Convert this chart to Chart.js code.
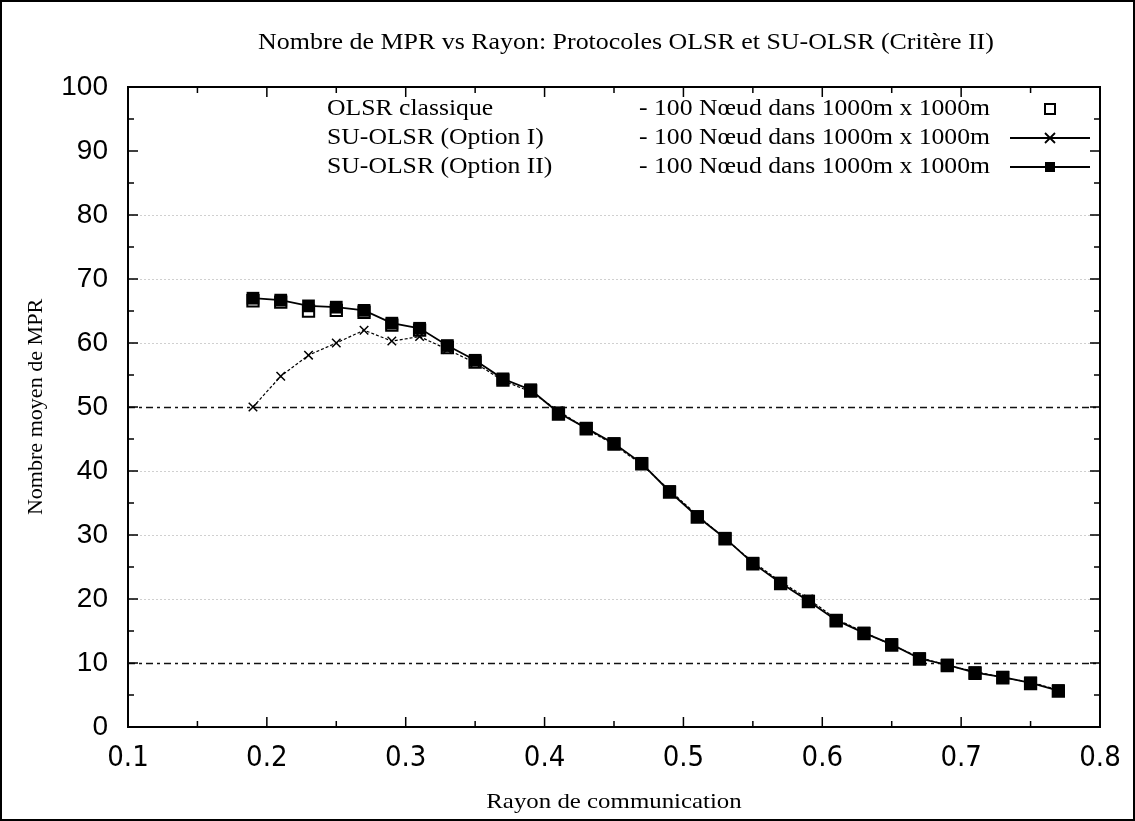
<!DOCTYPE html>
<html>
<head>
<meta charset="utf-8">
<script src="https://cdn.jsdelivr.net/npm/chart.js@4/dist/chart.umd.min.js"></script>
<style>
    html, body { margin: 0; padding: 0; background: #fff; }
    canvas { display: block; }
</style>
</head>
<body>
<canvas id="mpr-chart" width="1135" height="821"></canvas>
<script>
// Rayon de communication (x) and mean MPR count per protocol
const rayon = [0.19, 0.21, 0.23, 0.25, 0.27, 0.29, 0.31, 0.33, 0.35, 0.37,
               0.39, 0.41, 0.43, 0.45, 0.47, 0.49, 0.51, 0.53, 0.55, 0.57,
               0.59, 0.61, 0.63, 0.65, 0.67, 0.69, 0.71, 0.73, 0.75, 0.77];
const olsrClassique = [66.6, 66.4, 65.0, 65.1, 64.8, 62.8, 62.0, 59.3, 57.0, 54.2,
                       52.5, 48.9, 46.6, 44.2, 41.1, 36.7, 32.8, 29.4, 25.5, 22.4,
                       19.6, 16.6, 14.6, 12.8, 10.6, 9.6, 8.4, 7.7, 6.8, 5.6];
const suOlsrOpt1 = [50.0, 54.8, 58.1, 60.0, 62.0, 60.3, 61.0, 59.0, 56.9, 54.1,
                    52.4, 49.4, 46.6, 44.1, 41.0, 37.0, 33.1, 29.4, 25.8, 22.7,
                    20.0, 16.9, 14.8, 12.8, 10.9, 9.6, 8.7, 7.7, 7.0, 5.8];
const suOlsrOpt2 = [67.0, 66.7, 65.8, 65.6, 65.1, 63.1, 62.3, 59.6, 57.3, 54.4,
                    52.7, 49.1, 46.7, 44.3, 41.2, 36.8, 32.9, 29.5, 25.6, 22.5,
                    19.7, 16.7, 14.7, 12.9, 10.7, 9.7, 8.5, 7.8, 6.9, 5.7];

const xTicks = [0.1, 0.2, 0.3, 0.4, 0.5, 0.6, 0.7, 0.8];
const yTicks = [0, 10, 20, 30, 40, 50, 60, 70, 80, 90, 100];

const seriesNames = ['OLSR classique', 'SU-OLSR (Option I)', 'SU-OLSR (Option II)'];
const seriesNote = '- 100 N\u0153ud dans 1000m x 1000m';
const chartTitle = 'Nombre de MPR vs Rayon: Protocoles OLSR et SU-OLSR (Crit\u00e8re II)';
const xTitle = 'Rayon de communication';
const yTitle = 'Nombre moyen de MPR';

const toPoints = (vals) => rayon.map((x, i) => ({ x, y: vals[i] }));

const SERIF = '"Liberation Serif", "DejaVu Serif", serif';
const SANS = '"Liberation Sans", Arial, sans-serif';
const NARROW = '"Liberation Sans Narrow", "DejaVu Sans Condensed", "Liberation Sans", sans-serif';

// the original bitmap text is a bit wider than the fonts we have, so stretch it
const drawWide = (ctx, text, x, y, size, stretch, align) => {
    ctx.save();
    ctx.font = size + 'px ' + SERIF;
    ctx.textBaseline = 'middle';
    ctx.textAlign = align || 'center';
    ctx.translate(x, y);
    ctx.scale(stretch, 1);
    ctx.fillText(text, 0, 0);
    ctx.restore();
};

// horizontal grid: dark dash-dot at 10 and 50, faint dotted elsewhere
const gridPlugin = {
    id: 'gnuGrid',
    beforeDatasetsDraw(chart) {
        const { ctx, chartArea: a, scales: { y } } = chart;
        ctx.save();
        y.ticks.forEach(t => {
            const v = t.value;
            if (v <= 0 || v >= 90) return;
            const py = Math.round(y.getPixelForValue(v)) + 0.5;
            if (v === 10 || v === 50) {
                ctx.strokeStyle = '#111';
                ctx.lineWidth = 1.5;
                ctx.setLineDash([7, 4, 3, 4]);
            } else {
                ctx.strokeStyle = '#d0d0d0';
                ctx.lineWidth = 1;
                ctx.setLineDash([2, 2]);
            }
            ctx.beginPath();
            ctx.moveTo(a.left, py);
            ctx.lineTo(a.right, py);
            ctx.stroke();
        });
        ctx.restore();
    }
};

// frame, inward ticks, titles, legend and page border
const framePlugin = {
    id: 'gnuFrame',
    afterDraw(chart) {
        const { ctx, chartArea: a, scales: { x, y } } = chart;
        ctx.save();
        ctx.strokeStyle = '#000';
        ctx.fillStyle = '#000';
        ctx.lineWidth = 2;
        ctx.setLineDash([]);
        ctx.strokeRect(a.left, a.top, a.right - a.left, a.bottom - a.top);

        ctx.lineWidth = 1.5;
        ctx.beginPath();
        for (let v = 0; v <= 100; v += 5) {
            const py = y.getPixelForValue(v);
            const len = v % 10 === 0 ? 10 : 6;
            ctx.moveTo(a.left, py); ctx.lineTo(a.left + len, py);
            ctx.moveTo(a.right, py); ctx.lineTo(a.right - len, py);
        }
        for (let k = 2; k <= 16; k++) {
            const px = x.getPixelForValue(k * 0.05);
            const len = k % 2 === 0 ? 10 : 6;
            ctx.moveTo(px, a.bottom); ctx.lineTo(px, a.bottom - len);
            ctx.moveTo(px, a.top); ctx.lineTo(px, a.top + len);
        }
        ctx.stroke();

        // titles
        drawWide(ctx, chartTitle, 626, 43, 24, 1.08);
        drawWide(ctx, xTitle, (a.left + a.right) / 2, 802, 22, 1.13);
        ctx.save();
        ctx.translate(36, (a.top + a.bottom) / 2);
        ctx.rotate(-Math.PI / 2);
        drawWide(ctx, yTitle, 0, 0, 21, 1.05);
        ctx.restore();

        // legend, top right inside the plot
        const rows = [109, 138, 167];
        chart.data.datasets.forEach((ds, i) => {
            const ry = rows[i];
            drawWide(ctx, seriesNames[i], 327, ry, 24, 1.07, 'left');
            ctx.save();
            ctx.translate(990, ry);
            ctx.scale(1.07, 1);
            ctx.font = '24px ' + SERIF;
            ctx.textBaseline = 'middle';
            ctx.textAlign = 'right';
            ctx.fillText(seriesNote, 0, 0);
            ctx.restore();

            const mx = 1050;
            if (ds.showLine) {
                ctx.lineWidth = 1.8;
                ctx.beginPath();
                ctx.moveTo(1010, ry); ctx.lineTo(1090, ry);
                ctx.stroke();
            }
            if (ds.pointStyle === 'rect') {
                const s = 5;
                if (ds.pointBackgroundColor === '#000') {
                    ctx.fillRect(mx - s, ry - s, 2 * s, 2 * s);
                } else {
                    ctx.lineWidth = 2;
                    ctx.strokeRect(mx - s, ry - s, 2 * s, 2 * s);
                }
            } else {
                ctx.lineWidth = 1.8;
                ctx.beginPath();
                ctx.moveTo(mx - 5, ry - 5); ctx.lineTo(mx + 5, ry + 5);
                ctx.moveTo(mx - 5, ry + 5); ctx.lineTo(mx + 5, ry - 5);
                ctx.stroke();
            }
        });

        ctx.lineWidth = 2;
        ctx.strokeRect(1, 1, chart.width - 2, chart.height - 2);
        ctx.restore();
    }
};

new Chart(document.getElementById('mpr-chart'), {
    type: 'scatter',
    data: {
        datasets: [
            {
                label: seriesNames[0],
                data: toPoints(olsrClassique),
                showLine: false,
                pointStyle: 'rect',
                pointRadius: 8,
                pointBorderWidth: 2,
                pointBorderColor: '#000',
                pointBackgroundColor: 'rgba(255,255,255,0)',
                order: 3
            },
            {
                label: seriesNames[1],
                data: toPoints(suOlsrOpt1),
                showLine: true,
                borderColor: '#000',
                borderWidth: 1.2,
                borderDash: [3, 2],
                pointStyle: 'crossRot',
                pointRadius: 6,
                pointBorderWidth: 1.5,
                pointBorderColor: '#000',
                order: 2
            },
            {
                label: seriesNames[2],
                data: toPoints(suOlsrOpt2),
                showLine: true,
                borderColor: '#000',
                borderWidth: 1.8,
                pointStyle: 'rect',
                pointRadius: 9,
                pointBorderWidth: 0,
                pointBackgroundColor: '#000',
                pointBorderColor: '#000',
                order: 1
            }
        ]
    },
    options: {
        responsive: false,
        animation: false,
        devicePixelRatio: 1,
        layout: { padding: { left: 0, right: 35, top: 87, bottom: 0 } },
        plugins: {
            legend: { display: false },
            tooltip: { enabled: false },
            title: { display: false }
        },
        scales: {
            x: {
                type: 'linear',
                min: 0.1,
                max: 0.8,
                afterBuildTicks: (scale) => { scale.ticks = xTicks.map(v => ({ value: v })); },
                afterFit: (scale) => { scale.height = 94; },
                grid: { display: false, drawTicks: false },
                border: { display: false },
                ticks: {
                    color: '#000',
                    padding: 14,
                    maxRotation: 0,
                    font: { family: NARROW, size: 29 },
                    callback: (v) => v.toFixed(1)
                }
            },
            y: {
                type: 'linear',
                min: 0,
                max: 100,
                afterBuildTicks: (scale) => { scale.ticks = yTicks.map(v => ({ value: v })); },
                afterFit: (scale) => { scale.width = 128; },
                grid: { display: false, drawTicks: false },
                border: { display: false },
                ticks: {
                    color: '#000',
                    padding: 20,
                    font: { family: SANS, size: 28 }
                }
            }
        }
    },
    plugins: [gridPlugin, framePlugin]
});
</script>
</body>
</html>
